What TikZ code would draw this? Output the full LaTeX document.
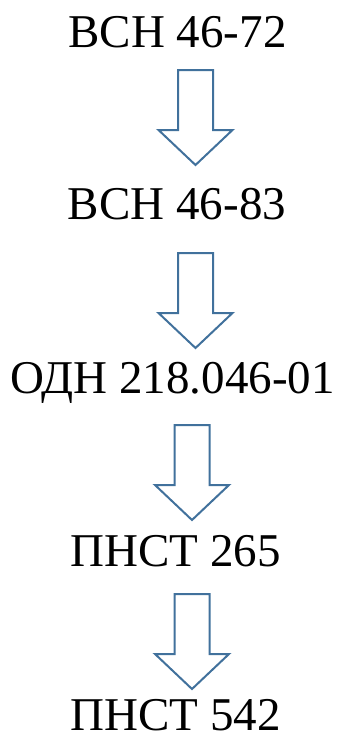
\documentclass[tikz,border=0pt]{standalone}
\usepackage{fontspec}
\setmainfont{Liberation Serif}
\usepackage{xcolor}
\usepackage{tikz}
\usetikzlibrary{positioning,calc}
\definecolor{arrowblue}{RGB}{65,113,156}

\tikzset{
    stdlabel/.style={inner sep=0pt, anchor=base, font=\fontsize{47}{56}\selectfont},
    blockarrow/.style={draw=arrowblue, line width=2pt, line join=miter, fill=white}
}

\begin{document}
\begin{tikzpicture}[x=1pt,y=-1pt]
    % Page
    \useasboundingbox (0,0) rectangle (341,740);

    % Standards
    \node [stdlabel] (vsn72) at (177.5,47) {ВСН 46-72};
    \node [stdlabel] (vsn83) at (177,219) {ВСН 46-83};
    \node [stdlabel] (odn) at (172.5,393) {ОДН 218.046-01};
    \node [stdlabel] (pnst265) at (175.5,566) {ПНСТ 265};
    \node [stdlabel] (pnst542) at (175.5,730) {ПНСТ 542};

    % Block arrows
    \foreach \cx/\ty in {195.5/70, 195.5/253, 192/425, 192/594} {
        \draw [blockarrow] (\cx-17.5,\ty) -- (\cx+17.5,\ty) -- (\cx+17.5,\ty+60)
            -- (\cx+37,\ty+60) -- (\cx,\ty+95) -- (\cx-37,\ty+60)
            -- (\cx-17.5,\ty+60) -- cycle;
    }
\end{tikzpicture}
\end{document}
